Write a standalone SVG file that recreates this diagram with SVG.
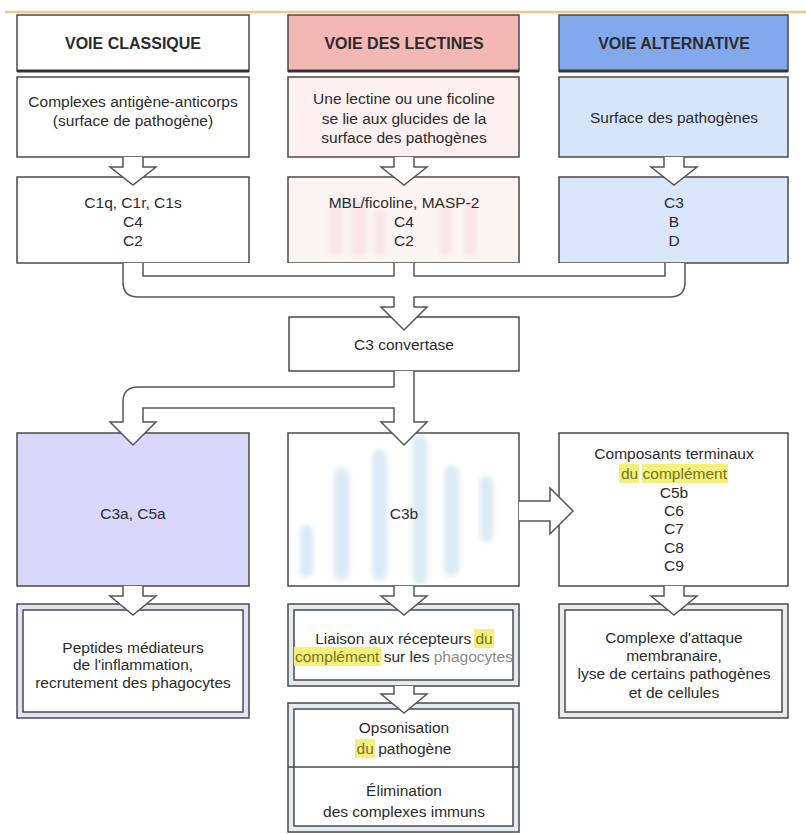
<svg xmlns="http://www.w3.org/2000/svg" width="806" height="834" viewBox="0 0 806 834">
  <defs>
    <style>
      .box { stroke: #4a4a4a; stroke-width: 1.5; }
      .t { font-family: "Liberation Sans", Arial, sans-serif; font-size: 15.5px; text-anchor: middle; fill: #2b2b2b; }
      .h { font-weight: bold; font-size: 16px; }
      .hl { fill: #f3f07c; }
      .olive { fill: #76741a; }
      .conn { fill: #ffffff; stroke: #555555; stroke-width: 1.5; stroke-linejoin: miter; }
      .wall { fill: none; stroke: #555555; stroke-width: 1.5; }
    </style>
    <filter id="soft" x="-50%" y="-20%" width="200%" height="140%">
      <feGaussianBlur stdDeviation="2.5"/>
    </filter>
  </defs>

  <rect width="806" height="834" fill="#ffffff"/>
  <line x1="5" y1="12" x2="806" y2="12" stroke="#f0c88e" stroke-width="2.5"/>

  <!-- pathway headers -->
  <g id="voie-classique">
    <rect class="box" x="17" y="15" width="232" height="56" fill="#ffffff"/>
    <line x1="17" y1="71" x2="249" y2="71" stroke="#333" stroke-width="3"/>
    <text class="t h" x="133" y="49" fill="#22220c">VOIE CLASSIQUE</text>
  </g>
  <g id="voie-lectines">
    <rect class="box" x="288" y="15" width="231" height="56" fill="#f3b8b6"/>
    <line x1="288" y1="71" x2="519" y2="71" stroke="#333" stroke-width="3"/>
    <text class="t h" x="404" y="49" fill="#3a1f1f">VOIE DES LECTINES</text>
  </g>
  <g id="voie-alternative">
    <rect class="box" x="559" y="15" width="229" height="56" fill="#82a9ec"/>
    <line x1="559" y1="71" x2="788" y2="71" stroke="#333" stroke-width="3"/>
    <text class="t h" x="674" y="49" fill="#14244a">VOIE ALTERNATIVE</text>
  </g>

  <!-- triggers -->
  <g id="declencheur-classique">
    <rect class="box" x="17" y="77" width="232" height="80" fill="#ffffff"/>
    <text class="t" x="133" y="106.5">Complexes antigène-anticorps</text>
    <text class="t" x="133" y="125.5">(surface de pathogène)</text>
  </g>
  <g id="declencheur-lectines">
    <rect class="box" x="288" y="77" width="231" height="80" fill="#fcf0f0"/>
    <text class="t" x="404" y="103.5" fill="#3b2d2d">Une lectine ou une ficoline</text>
    <text class="t" x="404" y="123.5" fill="#3b2d2d">se lie aux glucides de la</text>
    <text class="t" x="404" y="142.5" fill="#3b2d2d">surface des pathogènes</text>
  </g>
  <g id="declencheur-alternative">
    <rect class="box" x="559" y="77" width="229" height="80" fill="#d7e5fb"/>
    <text class="t" x="674" y="122.5">Surface des pathogènes</text>
  </g>

  <!-- early components -->
  <g id="composants-classique">
    <rect class="box" x="17" y="177" width="232" height="86" fill="#ffffff"/>
    <text class="t" x="133" y="207.5">C1q, C1r, C1s</text>
    <text class="t" x="133" y="226.5">C4</text>
    <text class="t" x="133" y="245.5">C2</text>
  </g>
  <g id="composants-lectines">
    <rect class="box" x="288" y="177" width="231" height="86" fill="#fdf4f4"/>
    <g filter="url(#soft)" fill="#f2c6c6" opacity="0.3">
      <rect x="330" y="205" width="12" height="50"/>
      <rect x="352" y="200" width="14" height="55"/>
      <rect x="375" y="210" width="10" height="45"/>
      <rect x="440" y="205" width="12" height="50"/>
      <rect x="465" y="200" width="12" height="55"/>
    </g>
    <text class="t" x="404" y="207.5" fill="#4a3434">MBL/ficoline, MASP-2</text>
    <text class="t" x="404" y="226.5" fill="#4a3434">C4</text>
    <text class="t" x="404" y="245.5" fill="#4a3434">C2</text>
  </g>
  <g id="composants-alternative">
    <rect class="box" x="559" y="177" width="229" height="86" fill="#d9e6fb"/>
    <text class="t" x="674" y="207.5" fill="#23304a">C3</text>
    <text class="t" x="674" y="226.5" fill="#23304a">B</text>
    <text class="t" x="674" y="245.5" fill="#23304a">D</text>
  </g>

  <g id="c3-convertase">
    <rect class="box" x="289" y="317" width="230" height="54" fill="#ffffff"/>
    <text class="t" x="404" y="349.5">C3 convertase</text>
  </g>

  <!-- products -->
  <g id="c3a-c5a">
    <rect class="box" x="17" y="433" width="232" height="153" fill="#d9d7fa"/>
    <text class="t" x="133" y="518.5" fill="#4a4a6c">C3a, C5a</text>
  </g>
  <g id="c3b">
    <rect class="box" x="288" y="433" width="231" height="153" fill="#ffffff"/>
    <g filter="url(#soft)" fill="#bcd9ef" opacity="0.55">
      <rect x="300" y="525" width="13" height="52" rx="6"/>
      <rect x="334" y="468" width="15" height="112" rx="7"/>
      <rect x="372" y="450" width="15" height="130" rx="7"/>
      <rect x="413" y="436" width="14" height="148" rx="5"/>
      <rect x="444" y="466" width="15" height="110" rx="7"/>
      <rect x="480" y="476" width="13" height="66" rx="6"/>
    </g>
    <text class="t" x="404" y="518.5" fill="#3d5f86">C3b</text>
  </g>
  <g id="composants-terminaux">
    <rect class="box" x="559" y="433" width="229" height="153" fill="#ffffff"/>
    <rect class="hl" x="619" y="464" width="20" height="19"/>
    <rect class="hl" x="642" y="464" width="86" height="19"/>
    <text class="t" x="674" y="458.5">Composants terminaux</text>
    <text class="t olive" x="674" y="478.5">du complément</text>
    <text class="t" x="674" y="497.5">C5b</text>
    <text class="t" x="674" y="515.5">C6</text>
    <text class="t" x="674" y="533.5">C7</text>
    <text class="t" x="674" y="552.5">C8</text>
    <text class="t" x="674" y="570.5">C9</text>
  </g>

  <!-- effects -->
  <g id="inflammation">
    <rect class="box" x="17" y="604" width="232" height="114" fill="#e3e1f4"/>
    <rect class="box" x="23" y="610" width="220" height="102" fill="#ffffff" stroke-width="1.2"/>
    <text class="t" x="133" y="652.5">Peptides médiateurs</text>
    <text class="t" x="133" y="669.5">de l'inflammation,</text>
    <text class="t" x="133" y="687.5">recrutement des phagocytes</text>
  </g>
  <g id="liaison-recepteurs">
    <rect class="box" x="288" y="604" width="231" height="82" fill="#e3ebf2"/>
    <rect class="box" x="294" y="610" width="219" height="70" fill="#ffffff" stroke-width="1.2"/>
    <rect class="hl" x="474" y="629" width="20" height="19"/>
    <rect class="hl" x="294" y="647" width="87" height="19"/>
    <text class="t" x="404" y="643.5">Liaison aux récepteurs <tspan class="olive">du</tspan></text>
    <text class="t" x="404" y="661.5"><tspan class="olive">complément</tspan> sur les <tspan fill="#8a8a8a">phagocytes</tspan></text>
  </g>
  <g id="attaque-membranaire">
    <rect class="box" x="559" y="604" width="229" height="114" fill="#ebebeb"/>
    <rect class="box" x="565" y="610" width="217" height="102" fill="#ffffff" stroke-width="1.2"/>
    <text class="t" x="674" y="642.5">Complexe d'attaque</text>
    <text class="t" x="674" y="660.5">membranaire,</text>
    <text class="t" x="674" y="678.5">lyse de certains pathogènes</text>
    <text class="t" x="674" y="697.5">et de cellules</text>
  </g>
  <g id="opsonisation">
    <rect class="box" x="288" y="703" width="231" height="129" fill="#e1ecf4"/>
    <rect class="box" x="294" y="709" width="219" height="117" fill="#ffffff" stroke-width="1.2"/>
    <line x1="288" y1="767" x2="519" y2="767" stroke="#4a4a4a" stroke-width="1.5"/>
    <rect class="hl" x="355" y="739" width="20" height="19"/>
    <text class="t" x="404" y="732.5">Opsonisation</text>
    <text class="t" x="404" y="753.5"><tspan class="olive">du</tspan> pathogène</text>
    <text class="t" x="404" y="795.5">Élimination</text>
    <text class="t" x="404" y="816.5">des complexes immuns</text>
  </g>

  <!-- connectors -->
  <g id="connecteurs">
    <!-- trigger to early components -->
    <path class="conn" d="M123,157 V167 H110 L133,185 L156,167 H143 V157"/>
    <path class="conn" d="M394,157 V167 H381 L404,185 L427,167 H414 V157"/>
    <path class="conn" d="M664,157 V167 H651 L674,185 L697,167 H684 V157"/>

    <!-- three pathways merge into C3 convertase -->
    <path class="conn" d="M123,263 V282 Q123,297 138,297 H394 V307 H381 L404,330 L427,307 H414 V297 H670 Q685,297 685,282 V263"/>
    <path class="wall" d="M143,263 V276 H394 V263"/>
    <path class="wall" d="M414,263 V276 H665 V263"/>

    <!-- C3 convertase splits to C3a/C5a and C3b -->
    <path class="conn" d="M394,371 V387 H138 Q123,387 123,402 V422 H110 L133,445 L156,422 H143 V408 H394 V422 H381 L404,445 L427,422 H414 V371"/>

    <!-- C3b to terminal components -->
    <path class="conn" d="M519,501 H550 V488 L573,511 L550,534 V521 H519"/>

    <!-- products to effects -->
    <path class="conn" d="M123,586 V596 H110 L133,615 L156,596 H143 V586"/>
    <path class="conn" d="M394,586 V596 H381 L404,615 L427,596 H414 V586"/>
    <path class="conn" d="M664,586 V596 H651 L674,615 L697,596 H684 V586"/>
    <path class="conn" d="M394,686 V694 H381 L404,713 L427,694 H414 V686"/>
  </g>
</svg>
